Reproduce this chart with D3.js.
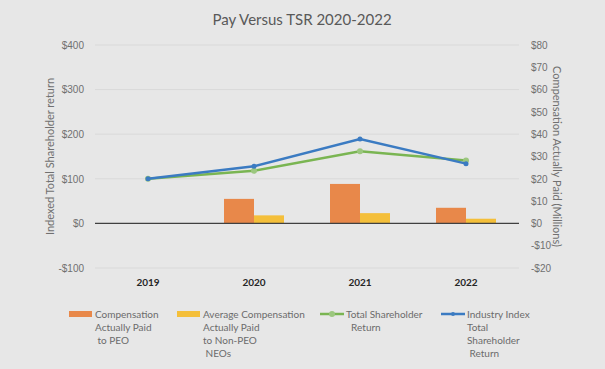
<!DOCTYPE html>
<html>
<head>
    <meta charset="utf-8"/>
    <title>Pay Versus TSR</title>
    <style>
        body, html { margin: 0; padding: 0; }
        body {
            background-color: #e7e7e7;
            font-family: Lato, 'Open Sans', sans-serif;
            overflow: hidden;
        }
        svg { display: block; }
        .tick text { fill: #707070; font-size: 10px; }
        .axis path, .axis line { display: none; }
        .grid line { stroke: #d9d9d9; stroke-width: 1px; }
        .legend text { fill: #6b6b6b; font-size: 10px; }
    </style>
    <script src="https://cdnjs.cloudflare.com/ajax/libs/d3/7.8.5/d3.min.js"></script>
</head>
<body>
<svg id="viz" width="605" height="369"></svg>
<script type="text/javascript">

const years = ['2019', '2020', '2021', '2022'];
const capPEO = [null, 11.0, 17.7, 7.0];       // $M
const capNEO = [null, 3.6, 4.6, 2.1];         // $M
const tsr = [100, 118, 162, 141];
const industryTsr = [100, 128, 189, 134];

const leftTicks = [-100, 0, 100, 200, 300, 400];
const rightTicks = [-20, -10, 0, 10, 20, 30, 40, 50, 60, 70, 80];

const svg = d3.select('svg');

const margin = { left: 95, right: 86, top: 45, bottom: 101 };
const width = 605, height = 369;

const x = d3.scaleBand()
    .domain(years)
    .range([margin.left, width - margin.right]);

const yL = d3.scaleLinear()
    .domain([-100, 400])
    .range([height - margin.bottom, margin.top]);

const yR = d3.scaleLinear()
    .domain([-20, 80])
    .range([height - margin.bottom, margin.top]);

// title
svg.append('text')
    .attr('x', 302).attr('y', 25)
    .attr('text-anchor', 'middle')
    .style('font-size', '15px')
    .style('fill', '#595959')
    .text('Pay Versus TSR 2020-2022');

// gridlines
svg.append('g').attr('class', 'grid')
    .selectAll('line')
    .data(leftTicks.filter(d => d !== 0))
    .enter().append('line')
    .attr('x1', margin.left).attr('x2', width - margin.right)
    .attr('y1', d => yL(d)).attr('y2', d => yL(d));

// left axis
svg.append('g').attr('class', 'axis')
    .attr('transform', `translate(${margin.left - 8},0)`)
    .call(d3.axisLeft(yL).tickValues(leftTicks).tickSize(0)
        .tickFormat(d => d < 0 ? '-$' + Math.abs(d) : '$' + d));

// right axis
svg.append('g').attr('class', 'axis')
    .attr('transform', `translate(${width - margin.right + 9},0)`)
    .call(d3.axisRight(yR).tickValues(rightTicks).tickSize(0)
        .tickFormat(d => d < 0 ? '-$' + Math.abs(d) : '$' + d));

// axis titles
svg.append('text')
    .attr('transform', `translate(54,${(margin.top + height - margin.bottom) / 2}) rotate(-90)`)
    .attr('text-anchor', 'middle')
    .style('font-size', '11px').style('fill', '#707070')
    .text('Indexed Total Shareholder return');

svg.append('text')
    .attr('transform', `translate(553,${(margin.top + height - margin.bottom) / 2}) rotate(90)`)
    .attr('text-anchor', 'middle')
    .style('font-size', '11px').style('fill', '#707070')
    .text('Compensation Actually Paid (Millions)');

// bars
const barW = 30;
const barData = [];
years.forEach((yr, i) => {
    if (capPEO[i] != null) barData.push({ yr, v: capPEO[i], off: -barW, c: '#e8884a' });
    if (capNEO[i] != null) barData.push({ yr, v: capNEO[i], off: 0, c: '#f4bf3a' });
});

svg.append('g').selectAll('rect')
    .data(barData)
    .enter().append('rect')
    .attr('x', d => x(d.yr) + x.bandwidth() / 2 + d.off)
    .attr('y', d => yR(d.v))
    .attr('width', barW)
    .attr('height', d => yR(0) - yR(d.v))
    .attr('fill', d => d.c);

// zero line
svg.append('line')
    .attr('x1', margin.left).attr('x2', width - margin.right)
    .attr('y1', yL(0)).attr('y2', yL(0))
    .attr('stroke', '#404040').attr('stroke-width', 1.2);

// year labels
svg.append('g').selectAll('text')
    .data(years)
    .enter().append('text')
    .attr('x', d => x(d) + x.bandwidth() / 2)
    .attr('y', 286)
    .attr('text-anchor', 'middle')
    .style('font-size', '10px').style('font-weight', 'bold').style('fill', '#262626')
    .text(d => d);

// lines
const line = d3.line()
    .x((d, i) => x(years[i]) + x.bandwidth() / 2)
    .y(d => yL(d));

svg.append('path').datum(tsr)
    .attr('d', line).attr('fill', 'none')
    .attr('stroke', '#7ab552').attr('stroke-width', 2.5);
svg.append('g').selectAll('circle')
    .data(tsr).enter().append('circle')
    .attr('cx', (d, i) => x(years[i]) + x.bandwidth() / 2)
    .attr('cy', d => yL(d))
    .attr('r', 3).attr('fill', '#9cc77f');

svg.append('path').datum(industryTsr)
    .attr('d', line).attr('fill', 'none')
    .attr('stroke', '#3b7bc2').attr('stroke-width', 2.5);
svg.append('g').selectAll('circle')
    .data(industryTsr).enter().append('circle')
    .attr('cx', (d, i) => x(years[i]) + x.bandwidth() / 2)
    .attr('cy', d => yL(d))
    .attr('r', 2.5).attr('fill', '#3b7bc2');

// legend
const legendItems = [
    { type: 'bar', c: '#e8884a', x: 69, lines: ['Compensation', 'Actually Paid', ' to PEO'] },
    { type: 'bar', c: '#f4bf3a', x: 177, lines: ['Average Compensation', 'Actually Paid', 'to Non-PEO', ' NEOs'] },
    { type: 'line', c: '#7ab552', mc: '#9cc77f', r: 3, x: 320, lines: ['Total Shareholder', '  Return'] },
    { type: 'line', c: '#3b7bc2', mc: '#3b7bc2', r: 2, x: 441, lines: ['Industry Index', 'Total', 'Shareholder', ' Return'] }
];

const lg = svg.append('g').attr('class', 'legend');
const ly = 314;
legendItems.forEach(it => {
    if (it.type === 'bar') {
        lg.append('rect').attr('x', it.x).attr('y', ly - 3).attr('width', 23).attr('height', 6).attr('fill', it.c);
    } else {
        lg.append('line').attr('x1', it.x).attr('x2', it.x + 24).attr('y1', ly).attr('y2', ly)
            .attr('stroke', it.c).attr('stroke-width', 2.5);
        lg.append('circle').attr('cx', it.x + 12).attr('cy', ly).attr('r', it.r).attr('fill', it.mc);
    }
    const t = lg.append('text').attr('x', it.x + 26).attr('y', ly + 3.5).attr('xml:space', 'preserve');
    it.lines.forEach((l, i) => {
        t.append('tspan').attr('x', it.x + 26).attr('dy', i === 0 ? 0 : 13).text(l);
    });
});

</script>
</body>
</html>
